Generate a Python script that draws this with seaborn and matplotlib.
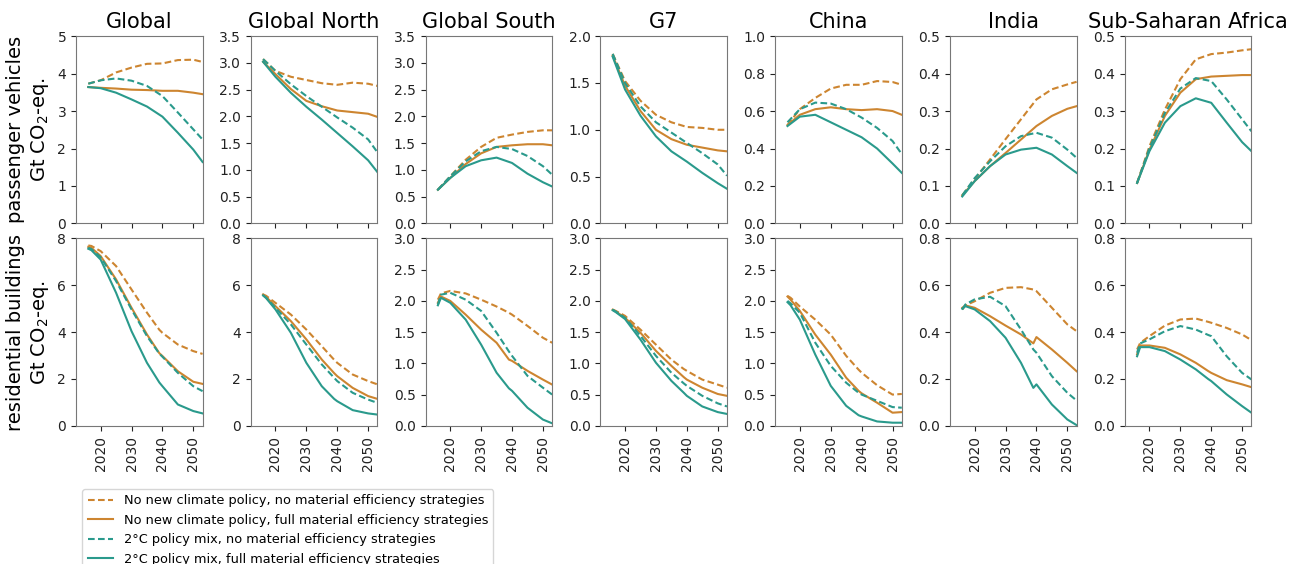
import numpy as np
import pandas as pd
import matplotlib
matplotlib.use("Agg")
import matplotlib.pyplot as plt
import seaborn as sns

plt.rcParams["font.family"] = ["DejaVu Sans"]

# ── data ─────────────────────────────────────────────────────────────────────
REGIONS = ["Global", "Global North", "Global South", "G7", "China", "India",
           "Sub-Saharan Africa"]
SCENARIOS = [
    "No new climate policy, no material efficiency strategies",
    "No new climate policy, full material efficiency strategies",
    "2°C policy mix, no material efficiency strategies",
    "2°C policy mix, full material efficiency strategies",
]
ROW_LABELS = ["passenger vehicles\nGt CO$_2$-eq.", "residential buildings\nGt CO$_2$-eq."]

YEARS_PV = [2016, 2020, 2025, 2030, 2035, 2040, 2045, 2050, 2053]
YEARS_RB = [2016, 2017, 2020, 2025, 2030, 2035, 2039, 2040, 2045, 2050, 2053]

# passenger vehicles, rows follow SCENARIOS
pv_global = [
    [3.73, 3.82, 4.03, 4.16, 4.26, 4.27, 4.36, 4.37, 4.31],
    [3.64, 3.62, 3.60, 3.57, 3.56, 3.54, 3.54, 3.49, 3.45],
    [3.73, 3.82, 3.87, 3.81, 3.67, 3.40, 2.96, 2.51, 2.24],
    [3.64, 3.61, 3.49, 3.31, 3.12, 2.85, 2.42, 1.97, 1.64],
]
pv_north = [
    [3.07, 2.85, 2.74, 2.68, 2.62, 2.59, 2.63, 2.61, 2.57],
    [3.02, 2.79, 2.51, 2.29, 2.19, 2.11, 2.08, 2.05, 1.99],
    [3.07, 2.85, 2.60, 2.38, 2.18, 1.98, 1.79, 1.57, 1.33],
    [3.02, 2.74, 2.44, 2.18, 1.94, 1.69, 1.44, 1.18, 0.96],
]
pv_south = [
    [0.63, 0.88, 1.19, 1.43, 1.60, 1.66, 1.71, 1.74, 1.74],
    [0.63, 0.85, 1.11, 1.31, 1.43, 1.46, 1.48, 1.48, 1.46],
    [0.63, 0.88, 1.16, 1.35, 1.43, 1.39, 1.26, 1.07, 0.91],
    [0.63, 0.85, 1.07, 1.18, 1.23, 1.13, 0.93, 0.77, 0.69],
]
pv_g7 = [
    [1.81, 1.52, 1.31, 1.16, 1.08, 1.03, 1.02, 1.00, 1.00],
    [1.79, 1.47, 1.20, 1.00, 0.90, 0.84, 0.81, 0.78, 0.77],
    [1.81, 1.50, 1.25, 1.08, 0.97, 0.86, 0.75, 0.63, 0.51],
    [1.78, 1.43, 1.15, 0.93, 0.77, 0.66, 0.54, 0.43, 0.37],
]
pv_china = [
    [0.525, 0.61, 0.67, 0.72, 0.74, 0.74, 0.76, 0.755, 0.74],
    [0.525, 0.58, 0.61, 0.62, 0.61, 0.605, 0.61, 0.60, 0.58],
    [0.54, 0.61, 0.645, 0.64, 0.61, 0.565, 0.51, 0.44, 0.37],
    [0.52, 0.57, 0.58, 0.54, 0.50, 0.46, 0.40, 0.32, 0.27],
]
pv_india = [
    [0.075, 0.118, 0.171, 0.225, 0.278, 0.331, 0.358, 0.371, 0.378],
    [0.075, 0.113, 0.153, 0.188, 0.224, 0.260, 0.287, 0.306, 0.313],
    [0.075, 0.121, 0.166, 0.206, 0.233, 0.242, 0.229, 0.197, 0.175],
    [0.072, 0.113, 0.153, 0.184, 0.197, 0.202, 0.184, 0.153, 0.135],
]
pv_ssa = [
    [0.108, 0.206, 0.304, 0.385, 0.438, 0.452, 0.456, 0.462, 0.465],
    [0.108, 0.197, 0.287, 0.349, 0.385, 0.392, 0.394, 0.396, 0.396],
    [0.108, 0.201, 0.295, 0.360, 0.388, 0.380, 0.331, 0.278, 0.246],
    [0.108, 0.193, 0.269, 0.313, 0.334, 0.322, 0.269, 0.217, 0.193],
]

# residential buildings
rb_global = [
    [7.70, 7.68, 7.46, 6.82, 5.82, 4.83, 4.10, 3.97, 3.47, 3.19, 3.07],
    [7.64, 7.60, 7.25, 6.25, 5.04, 3.90, 3.10, 2.98, 2.33, 1.88, 1.79],
    [7.60, 7.55, 7.20, 6.18, 4.97, 3.83, 3.08, 2.95, 2.26, 1.69, 1.48],
    [7.56, 7.50, 7.10, 5.68, 4.04, 2.69, 1.85, 1.69, 0.91, 0.63, 0.53],
]
rb_north = [
    [5.61, 5.55, 5.25, 4.75, 4.11, 3.40, 2.82, 2.69, 2.19, 1.91, 1.77],
    [5.61, 5.50, 5.11, 4.47, 3.69, 2.83, 2.25, 2.12, 1.62, 1.27, 1.15],
    [5.57, 5.47, 5.04, 4.33, 3.47, 2.62, 2.05, 1.91, 1.41, 1.12, 0.98],
    [5.57, 5.45, 4.97, 3.97, 2.69, 1.69, 1.15, 1.05, 0.67, 0.53, 0.48],
]
rb_south = [
    [2.02, 2.12, 2.16, 2.12, 2.02, 1.91, 1.81, 1.78, 1.60, 1.41, 1.33],
    [1.97, 2.07, 2.00, 1.78, 1.54, 1.33, 1.06, 1.04, 0.88, 0.74, 0.66],
    [1.94, 2.10, 2.13, 2.02, 1.84, 1.49, 1.19, 1.12, 0.80, 0.61, 0.50],
    [1.93, 2.05, 1.97, 1.70, 1.30, 0.85, 0.60, 0.56, 0.29, 0.10, 0.04],
]
rb_g7 = [
    [1.86, 1.84, 1.76, 1.54, 1.30, 1.06, 0.91, 0.88, 0.74, 0.66, 0.61],
    [1.86, 1.83, 1.73, 1.49, 1.20, 0.96, 0.78, 0.74, 0.61, 0.51, 0.48],
    [1.86, 1.83, 1.73, 1.44, 1.12, 0.85, 0.68, 0.64, 0.48, 0.36, 0.31],
    [1.85, 1.82, 1.71, 1.38, 1.01, 0.72, 0.53, 0.48, 0.31, 0.22, 0.19],
]
rb_china = [
    [2.08, 2.05, 1.91, 1.70, 1.46, 1.12, 0.90, 0.85, 0.65, 0.50, 0.51],
    [2.07, 2.02, 1.84, 1.46, 1.14, 0.77, 0.56, 0.52, 0.37, 0.21, 0.22],
    [2.00, 1.96, 1.81, 1.33, 0.96, 0.69, 0.53, 0.50, 0.40, 0.30, 0.29],
    [1.98, 1.93, 1.70, 1.14, 0.64, 0.32, 0.17, 0.15, 0.07, 0.05, 0.05],
]
rb_india = [
    [0.497, 0.514, 0.532, 0.568, 0.589, 0.592, 0.582, 0.575, 0.504, 0.433, 0.404],
    [0.504, 0.514, 0.504, 0.468, 0.428, 0.390, 0.352, 0.379, 0.326, 0.269, 0.233],
    [0.497, 0.518, 0.540, 0.551, 0.511, 0.411, 0.326, 0.312, 0.212, 0.141, 0.108],
    [0.500, 0.511, 0.497, 0.447, 0.376, 0.269, 0.162, 0.177, 0.091, 0.027, 0.003],
]
rb_ssa = [
    [0.326, 0.354, 0.383, 0.428, 0.454, 0.458, 0.444, 0.440, 0.418, 0.390, 0.366],
    [0.305, 0.343, 0.343, 0.333, 0.305, 0.269, 0.234, 0.226, 0.195, 0.177, 0.165],
    [0.312, 0.352, 0.369, 0.404, 0.426, 0.411, 0.388, 0.383, 0.297, 0.226, 0.198],
    [0.297, 0.336, 0.336, 0.319, 0.283, 0.241, 0.200, 0.191, 0.134, 0.084, 0.056],
]

PV = [pv_global, pv_north, pv_south, pv_g7, pv_china, pv_india, pv_ssa]
RB = [rb_global, rb_north, rb_south, rb_g7, rb_china, rb_india, rb_ssa]
# (upper limit, tick step) per panel
YAX_PV = [(5, 1), (3.5, 0.5), (3.5, 0.5), (2.0, 0.5), (1.0, 0.2), (0.5, 0.1), (0.5, 0.1)]
YAX_RB = [(8, 2), (8, 2), (3.0, 0.5), (3.0, 0.5), (3.0, 0.5), (0.8, 0.2), (0.8, 0.2)]

ORANGE = "#cd8530"
TEAL = "#2a9a8c"
palette = dict(zip(SCENARIOS, [ORANGE, ORANGE, TEAL, TEAL]))
dashes = dict(zip(SCENARIOS, [(3.2, 1.6), "", (3.2, 1.6), ""]))


def long_df(series, years):
    rows = []
    for scen, vals in zip(SCENARIOS, series):
        for yr, v in zip(years, vals):
            rows.append((scen, yr, v))
    return pd.DataFrame(rows, columns=["scenario", "year", "value"])


fig, axes = plt.subplots(2, 7, figsize=(13.09, 5.64), dpi=100, sharex=True)
fig.subplots_adjust(left=0.058, right=0.956, top=0.936, bottom=0.245,
                    hspace=0.08, wspace=0.38)

for r, (data, years, yax) in enumerate([(PV, YEARS_PV, YAX_PV),
                                        (RB, YEARS_RB, YAX_RB)]):
    for c in range(7):
        ax = axes[r, c]
        df = long_df(data[c], years)
        sns.lineplot(data=df, x="year", y="value", hue="scenario",
                     style="scenario", palette=palette, dashes=dashes,
                     hue_order=SCENARIOS, style_order=SCENARIOS,
                     linewidth=1.5, ax=ax, legend=(r == 0 and c == 0))
        top, step = yax[c]
        ax.set_xlim(2012, 2053)
        ax.set_ylim(0, top)
        ax.set_yticks(np.round(np.arange(0, top + step / 2, step), 2))
        ax.set_xlabel("")
        ax.set_ylabel("")
        ax.set_xticks([2020, 2030, 2040, 2050])
        ax.tick_params(labelsize=10, colors="#222222")
        ax.tick_params(axis="x", labelrotation=90)
        for s in ax.spines.values():
            s.set_color("#777777")
        if r == 0:
            ax.set_title(REGIONS[c], fontsize=15)
    axes[r, 0].set_ylabel(ROW_LABELS[r], fontsize=14)
    axes[r, 0].yaxis.set_label_coords(-0.2, 0.5)

handles, labels = axes[0, 0].get_legend_handles_labels()
axes[0, 0].get_legend().remove()
for h in handles:
    h.set_linewidth(1.5)
fig.legend(handles, labels, loc="upper left",
           bbox_to_anchor=(0.063, 1 - 489 / 564), fontsize=9.3,
           frameon=True, labelspacing=0.5, handlelength=2.0,
           borderaxespad=0.0)

plt.savefig("out.png", dpi=100)
